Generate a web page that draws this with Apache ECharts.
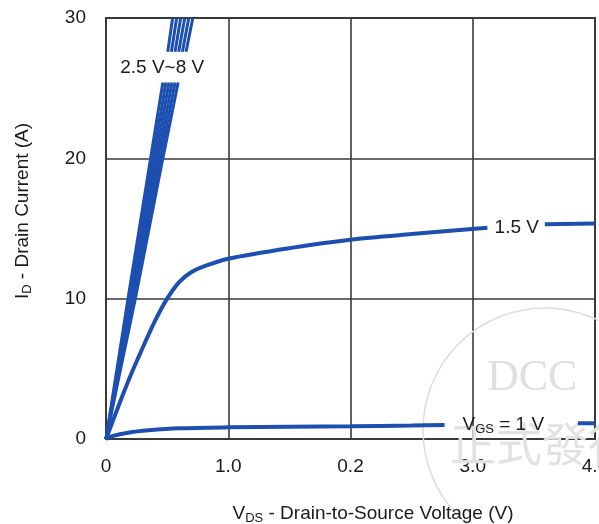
<!DOCTYPE html>
<html>
<head>
<meta charset="utf-8">
<script src="https://cdn.jsdelivr.net/npm/echarts@6/dist/echarts.min.js"></script>
<style>html,body{margin:0;padding:0;background:#fff;}#c{width:599px;height:524px;}</style>
</head>
<body>
<div id="c"></div>
<script>
// X tick labels as printed in the reference
var xTickLabels = ['0', '1.0', '0.2', '3.0', '4.0'];
var yTicks = [0, 10, 20, 30];

// VGS = 2.5 V ~ 8 V bundle (gap where the label sits)
var vgsHigh1 = [[0,0],[0.18,10],[0.365,20],[0.465,25.4],[0.49,null],[0.505,27.6],[0.545,30]];
var vgsHigh2 = [[0,0],[0.192,10],[0.385,20],[0.49,25.4],[0.51,null],[0.535,27.6],[0.578,30]];
var vgsHigh3 = [[0,0],[0.204,10],[0.405,20],[0.515,25.4],[0.54,null],[0.565,27.6],[0.611,30]];
var vgsHigh4 = [[0,0],[0.216,10],[0.425,20],[0.54,25.4],[0.56,null],[0.595,27.6],[0.644,30]];
var vgsHigh5 = [[0,0],[0.228,10],[0.445,20],[0.565,25.4],[0.59,null],[0.625,27.6],[0.677,30]];
var vgsHigh6 = [[0,0],[0.24,10],[0.465,20],[0.59,25.4],[0.62,null],[0.655,27.6],[0.71,30]];

// VGS = 1.5 V
var vgs15 = [[0,0],[0.1,2.3],[0.2,4.5],[0.3,6.5],[0.4,8.4],[0.5,10.0],[0.6,11.2],[0.7,11.9],[0.8,12.3],[1.0,12.85],[1.5,13.6],[2.0,14.2],[2.5,14.6],[3.12,15.05],[3.3,null],[3.59,15.3],[4.0,15.35]];

// VGS = 1 V
var vgs1 = [[0,0],[0.05,0.2],[0.18,0.45],[0.35,0.62],[0.6,0.76],[1.0,0.83],[1.5,0.87],[2.0,0.9],[2.5,0.96],[2.77,1.0],[3.2,null],[3.86,1.12],[4.0,1.13]];

var blue = '#1d4fb1';
var font = 'Liberation Sans, Arial, sans-serif';

function bundle(d) {
  return {type:'line', data:d, showSymbol:false, symbol:'none', connectNulls:false,
    lineStyle:{color:blue, width:3}, z:3, silent:true};
}

var chart = echarts.init(document.getElementById('c'));
chart.setOption({
  animation:false,
  backgroundColor:'#fff',
  grid:{left:106, right:4, top:18, bottom:85, containLabel:false, outerBoundsMode:'none',
    show:true, borderColor:'#3a3a3a', borderWidth:2},
  xAxis:{type:'value', min:0, max:4, interval:1,
    axisLine:{show:true, lineStyle:{color:'#3a3a3a', width:2}},
    axisTick:{show:false},
    splitLine:{show:true, lineStyle:{color:'#3a3a3a', width:1.6}},
    axisLabel:{margin:18, color:'#1a1a1a', fontFamily:font, fontSize:19,
      formatter:function(v){ return xTickLabels[Math.round(v)]; }}
  },
  yAxis:{type:'value', min:0, max:30, interval:10,
    axisLine:{show:true, lineStyle:{color:'#3a3a3a', width:2}},
    axisTick:{show:false},
    splitLine:{show:true, lineStyle:{color:'#3a3a3a', width:1.6}},
    axisLabel:{margin:20, color:'#1a1a1a', fontFamily:font, fontSize:19,
      formatter:function(v){ return yTicks.indexOf(v) >= 0 ? String(v) : ''; }}
  },
  graphic:[
    {type:'circle', shape:{cx:545, cy:430, r:122}, style:{fill:'none', stroke:'#dcdcdc', lineWidth:1.5}, z:1, silent:true},
    {type:'text', left:487, top:356, style:{text:'DCC', font:'44px "Liberation Serif", serif', fill:'#e0e0e0', letterSpacing:8}, z:1, silent:true},
    {type:'text', left:450, top:421, style:{text:'正式發行', font:'46px "Noto Sans CJK TC", sans-serif', fill:'#e2e2e2', letterSpacing:4}, z:1, silent:true},
    {type:'text', x:373, y:514, style:{text:'V{s|DS} - Drain-to-Source Voltage (V)', align:'center', verticalAlign:'middle',
      font:'19px ' + font, fill:'#1a1a1a', rich:{s:{fontSize:13, fontFamily:font, fill:'#1a1a1a', padding:[8,0,0,0]}}}, z:10},
    {type:'text', x:23, y:211, rotation:Math.PI/2, style:{text:'I{s|D} - Drain Current (A)', align:'center', verticalAlign:'middle',
      font:'19px ' + font, fill:'#1a1a1a', rich:{s:{fontSize:13, fontFamily:font, fill:'#1a1a1a', padding:[8,0,0,0]}}}, z:10}
  ],
  series:[
    bundle(vgsHigh1), bundle(vgsHigh2), bundle(vgsHigh3), bundle(vgsHigh4), bundle(vgsHigh5), bundle(vgsHigh6),
    {type:'line', data:vgs15, showSymbol:false, symbol:'none', connectNulls:false, smooth:0.3, lineStyle:{color:blue, width:4}, z:3, silent:true,
      markPoint:{symbol:'circle', symbolSize:0, data:[{coord:[3.36,15.04], value:'1.5 V'}],
        label:{show:true, position:'inside', formatter:'1.5 V', color:'#1a1a1a', fontFamily:font, fontSize:19}}},
    {type:'line', data:vgs1, showSymbol:false, symbol:'none', connectNulls:false, smooth:0.3, lineStyle:{color:blue, width:4}, z:3, silent:true,
      markPoint:{symbol:'circle', symbolSize:0, data:[
          {coord:[3.25,1.0], value:'v1'},
          {coord:[0.46,26.45], value:'v2'}],
        label:{show:true, position:'inside', color:'#1a1a1a', fontFamily:font, fontSize:19,
          formatter:function(p){ return p.value === 'v1' ? 'V{s|GS} = 1 V' : '2.5 V~8 V'; },
          rich:{s:{fontSize:13, fontFamily:font, color:'#1a1a1a', padding:[8,0,0,0]}}}}}
  ]
});
</script>
</body>
</html>
